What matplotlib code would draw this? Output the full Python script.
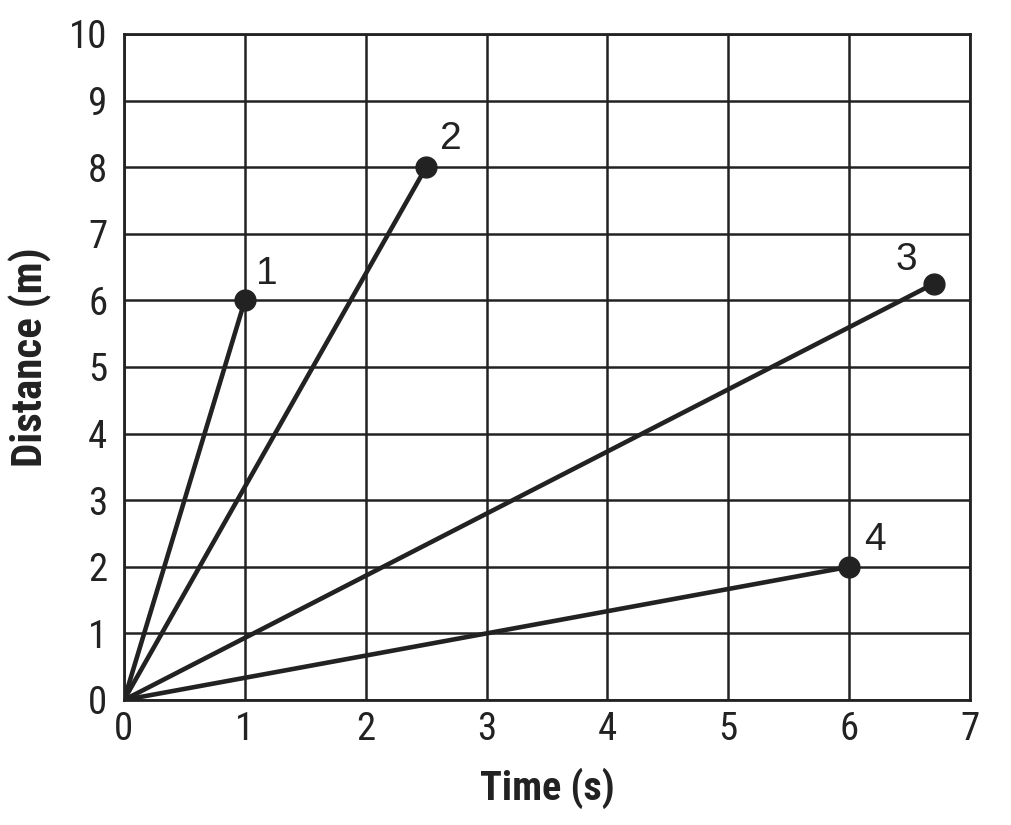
import matplotlib
matplotlib.use("Agg")
import matplotlib.pyplot as plt
from matplotlib import font_manager

names = {f.name for f in font_manager.fontManager.ttflist}
cond = "Liberation Sans"
for cand in ["Roboto Condensed", "Liberation Sans Narrow", "Open Sans Condensed"]:
    if cand in names:
        cond = cand
        break

labels = ["1", "2", "3", "4"]
end_x = [1.0, 2.5, 6.7, 6.0]
end_y = [6.0, 8.0, 6.25, 2.0]
xticks = [0, 1, 2, 3, 4, 5, 6, 7]
yticks = [0, 1, 2, 3, 4, 5, 6, 7, 8, 9, 10]
label_offsets = [(8, 6), (10, 7), (-12, 4), (11, 6)]
label_ha = ["left", "left", "right", "left"]

fig = plt.figure(figsize=(10.11, 8.25), dpi=100)
ax = fig.add_axes([124/1011, 1 - 700/825, (970-124)/1011, (700-34)/825])
ax.set_xlim(0, 7)
ax.set_ylim(0, 10)
ax.set_xticks(xticks)
ax.set_yticks(yticks)
ax.grid(True, color="#222222", linewidth=1.8)
ax.set_axisbelow(True)
for s in ax.spines.values():
    s.set_linewidth(2)
    s.set_color("#222222")
ax.tick_params(length=0, labelsize=28, colors="#222222")
ax.tick_params(axis="x", pad=8)
ax.tick_params(axis="y", pad=12)
for t in ax.get_xticklabels() + ax.get_yticklabels():
    t.set_fontfamily(cond)
    t.set_fontweight("normal")

for lab, x, y, off, ha in zip(labels, end_x, end_y, label_offsets, label_ha):
    ax.plot([0, x], [0, y], color="#222222", linewidth=3.3, solid_capstyle="round", zorder=3)
    ax.plot([x], [y], "o", color="#222222", markersize=15, zorder=4, clip_on=False)
    ax.annotate(lab, (x, y), xytext=off, textcoords="offset points", fontsize=28,
                fontfamily="Liberation Sans", color="#222222", ha=ha, va="bottom")

ax.set_xlabel("Time (s)", fontsize=29, fontweight="bold", fontfamily=cond, labelpad=14, color="#222222")
ax.set_ylabel("Distance (m)", fontsize=31, fontweight="bold", fontfamily=cond, color="#222222")
ax.yaxis.set_label_coords(-0.085, 0.515)

fig.savefig("out.png", dpi=100)
